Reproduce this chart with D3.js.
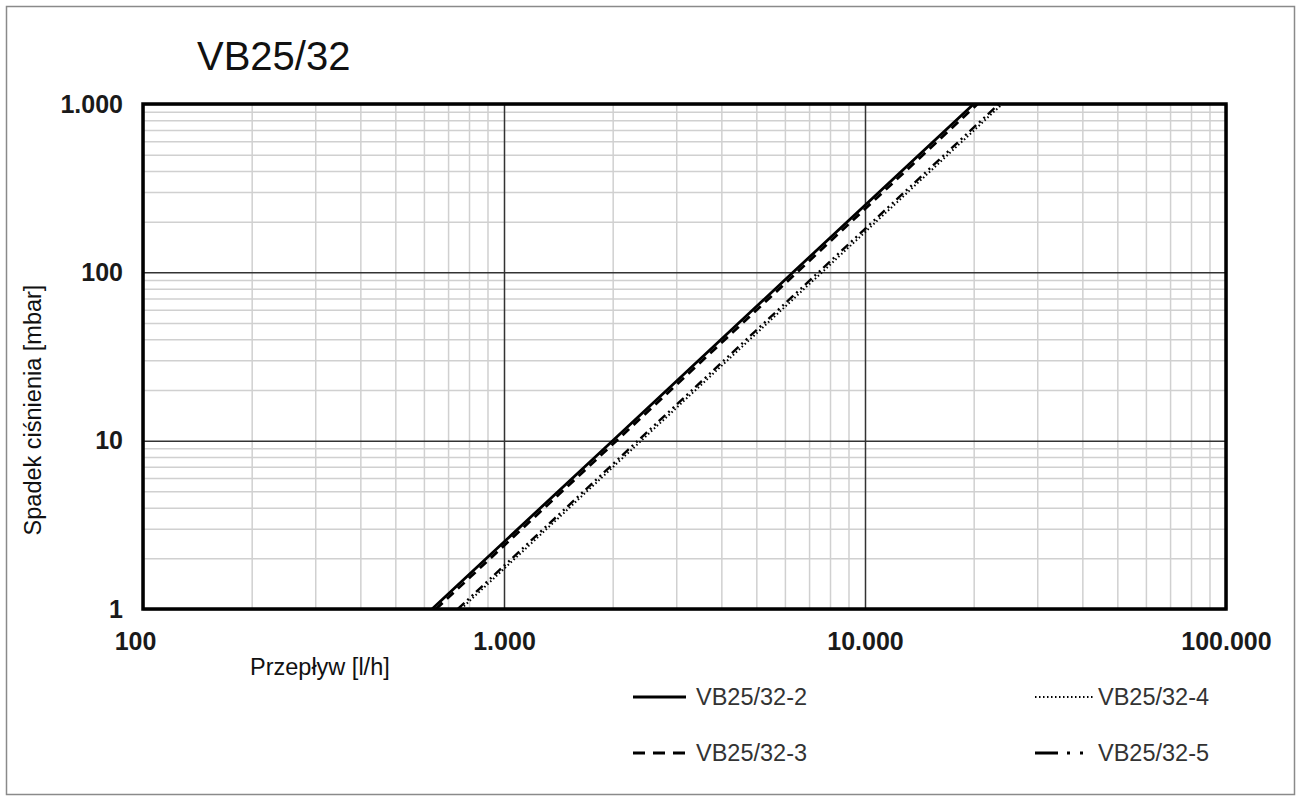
<!DOCTYPE html>
<html><head><meta charset="utf-8">
<script src="https://cdn.jsdelivr.net/npm/d3@7"></script>
<style>
body{margin:0;background:#fff;}
svg{display:block;font-family:"Liberation Sans",Arial,sans-serif;}
</style></head>
<body><svg id="c" width="1301" height="800"></svg>
<script>
// ---- data ----
const title = "VB25/32";
const xLabel = "Przepływ [l/h]";
const yLabel = "Spadek ciśnienia [mbar]";
const xTicks = [100, 1000, 10000, 100000];
const yTicks = [1, 10, 100, 1000];
const seriesNames = ["VB25/32-2", "VB25/32-3", "VB25/32-4", "VB25/32-5"];
// pressure drop points (mbar) and flows read at them (l/h)
const pressure = [1, 10, 100, 1000];
const flowVB2 = [632, 2000, 6320, 20000];
const flowVB3 = [648, 2050, 6480, 20500];
const flowVB4 = [760, 2400, 7600, 24000];
const flowVB5 = [745, 2350, 7430, 23500];

const W = 1301, H = 800;
const m = {l:143, r:1226, t:104, b:609};
const svg = d3.select("#c");
const x = d3.scaleLog().domain([100, 100000]).range([m.l, m.r]);
const y = d3.scaleLog().domain([1, 1000]).range([m.b, m.t]);
const loc = d3.formatLocale({decimal:",", thousands:".", grouping:[3], currency:["",""]});
const fmt = loc.format(",");
const FF = "Liberation Sans, Arial, sans-serif";

// outer frame
svg.append("rect").attr("x",6.5).attr("y",6.5).attr("width",W-13).attr("height",H-12)
  .attr("fill","none").attr("stroke","#8a8a8a").attr("stroke-width",1.5);

// minor ticks
const minor = (lo, hi) => { const a=[]; for(let d=lo; d<hi; d*=10) for(let k=2;k<=9;k++) a.push(d*k); return a; };
const gw = m.r - m.l, gh = m.b - m.t;
svg.append("g").attr("transform",`translate(0,${m.b})`)
  .call(d3.axisBottom(x).tickValues(minor(100,100000)).tickSize(-gh).tickFormat(""))
  .call(g=>{g.select(".domain").remove(); g.selectAll("line").attr("stroke","#d0d0d0").attr("stroke-width",1.5);});
svg.append("g").attr("transform",`translate(${m.l},0)`)
  .call(d3.axisLeft(y).tickValues(minor(1,1000)).tickSize(-gw).tickFormat(""))
  .call(g=>{g.select(".domain").remove(); g.selectAll("line").attr("stroke","#d0d0d0").attr("stroke-width",1.5);});
// major grid
svg.append("g").attr("transform",`translate(0,${m.b})`)
  .call(d3.axisBottom(x).tickValues(xTicks).tickSize(-gh).tickFormat(""))
  .call(g=>{g.select(".domain").remove(); g.selectAll("line").attr("stroke","#333").attr("stroke-width",1.5);});
svg.append("g").attr("transform",`translate(${m.l},0)`)
  .call(d3.axisLeft(y).tickValues(yTicks).tickSize(-gw).tickFormat(""))
  .call(g=>{g.select(".domain").remove(); g.selectAll("line").attr("stroke","#333").attr("stroke-width",1.5);});

// tick labels
svg.append("g").attr("transform",`translate(0,${m.b+20})`)
  .call(d3.axisBottom(x).tickValues(xTicks).tickSize(0).tickFormat(fmt))
  .call(g=>{g.select(".domain").remove(); g.selectAll("text").attr("font-size",25).attr("font-weight","bold").attr("fill","#1a1a1a").attr("font-family",FF)
    .attr("dx",(d,i)=>i===0?-8:0);});
svg.append("g").attr("transform",`translate(${m.l-17},0)`)
  .call(d3.axisLeft(y).tickValues(yTicks).tickSize(0).tickFormat(fmt))
  .call(g=>{g.select(".domain").remove(); g.selectAll("text").attr("font-size",25).attr("font-weight","bold").attr("fill","#1a1a1a").attr("font-family",FF);});

// series
const styles = [
  {dash:null, w:2.8},
  {dash:"9,6", w:2.8},
  {dash:"1.5,2.5", w:2},
  {dash:"9,4,2,4,2,4", w:2.4}
];
const flows = [flowVB2, flowVB3, flowVB4, flowVB5];
svg.append("clipPath").attr("id","pc").append("rect")
  .attr("x",m.l).attr("y",m.t).attr("width",gw).attr("height",gh);
const line = d3.line().x(d=>x(d[0])).y(d=>y(d[1]));
flows.forEach((f,i)=>{
  const pts = f.map((q,j)=>[q, pressure[j]]);
  svg.append("path").attr("d",line(pts)).attr("fill","none").attr("stroke","#000")
    .attr("stroke-width",styles[i].w).attr("stroke-dasharray",styles[i].dash)
    .attr("clip-path","url(#pc)");
});

// plot frame
svg.append("rect").attr("x",m.l).attr("y",m.t).attr("width",gw).attr("height",gh)
  .attr("fill","none").attr("stroke","#000").attr("stroke-width",3.5);

// title & labels
svg.append("text").attr("x",197).attr("y",70).attr("font-size",40).attr("fill","#111")
  .attr("font-family",FF).text(title);
svg.append("text").attr("x",250).attr("y",675).attr("font-size",23.5).attr("fill","#111").text(xLabel);
svg.append("text").attr("transform","translate(41,410) rotate(-90)").attr("text-anchor","middle")
  .attr("font-size",23.5).attr("fill","#111").text(yLabel);

// legend
const legPos = [[633,697],[633,753],[1035,697],[1035,753]];
const legDash = [null, "12,8", "1.5,2.5", "23,9,3,10,3,100"];
seriesNames.forEach((n,i)=>{
  const [lx,ly] = legPos[i];
  const len = i<2 ? 53 : 58;
  svg.append("line").attr("x1",lx).attr("x2",lx+len).attr("y1",ly).attr("y2",ly)
    .attr("stroke","#000").attr("stroke-width",i==2?2:3)
    .attr("stroke-dasharray", legDash[i]);
  svg.append("text").attr("x", i<2 ? 696 : 1098).attr("y",ly+8)
    .attr("font-size",23.5).attr("fill","#333")
    .attr("font-family",FF).text(n);
});
</script></body></html>
